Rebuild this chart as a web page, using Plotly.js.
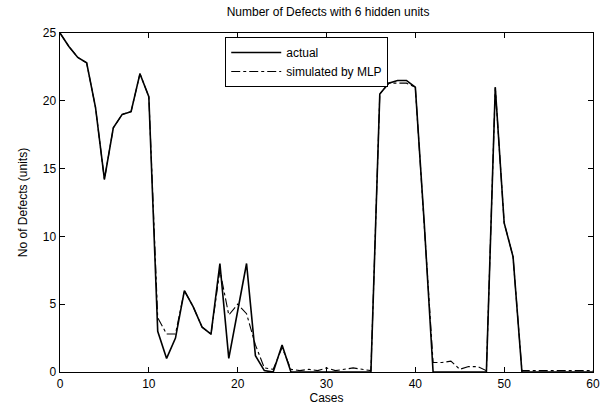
<!DOCTYPE html>
<html>
<head>
<meta charset="utf-8">
<script src="https://cdn.plot.ly/plotly-3.0.1.min.js"></script>
<style>html,body{margin:0;padding:0;background:#fff}#chart{width:602px;height:408px}</style>
</head>
<body>
<div id="chart"></div>
<script>
const cases = [];
for (let i = 0; i <= 60; i++) cases.push(i);

const actual = [
  25, 24, 23.2, 22.8, 19.5, 14.2, 18, 19, 19.2, 22,
  20.3, 3, 1, 2.5, 6, 4.8, 3.3, 2.8, 8, 1,
  4.5, 8, 1.2, 0.1, 0, 2, 0, 0, 0, 0,
  0, 0, 0, 0, 0, 0, 20.5, 21.3, 21.5, 21.5,
  21, 11, 0, 0, 0, 0, 0, 0, 0, 21,
  11, 8.5, 0, 0, 0, 0, 0, 0, 0, 0,
  0
];

const simulated = [
  25, 24, 23.2, 22.8, 19.5, 14.2, 18, 19, 19.2, 22,
  20.3, 4, 2.8, 2.8, 6, 4.8, 3.3, 2.8, 7.5, 4.2,
  5, 4.3, 2, 0.3, 0.2, 1.8, 0.2, 0.1, 0.2, 0.1,
  0.3, 0.1, 0.2, 0.3, 0.2, 0.1, 20.5, 21.3, 21.3, 21.3,
  21, 11, 0.7, 0.7, 0.8, 0.2, 0.4, 0.4, 0.1, 21,
  11, 8.5, 0.1, 0.1, 0.1, 0.1, 0.1, 0.1, 0.1, 0.1,
  0.1
];

const xTicks = [0, 10, 20, 30, 40, 50, 60];
const yTicks = [0, 5, 10, 15, 20, 25];

const font = {family: 'Liberation Sans, Arial, sans-serif', size: 12, color: '#000'};

const traces = [
  {x: cases, y: actual, name: 'actual', type: 'scatter', mode: 'lines',
   line: {color: '#000', width: 1.6, dash: 'solid'}},
  {x: cases, y: simulated, name: 'simulated by MLP', type: 'scatter', mode: 'lines',
   line: {color: '#000', width: 1.1, dash: 'dashdot'}}
];

const axisCommon = {
  showline: true, linecolor: '#000', linewidth: 1.4, mirror: 'ticks',
  ticks: 'inside', ticklen: 5, tickcolor: '#000', showgrid: false, zeroline: false,
  tickfont: font
};

const layout = {
  width: 602, height: 408,
  margin: {l: 60, r: 9, t: 33, b: 36},
  paper_bgcolor: '#fff', plot_bgcolor: '#fff',
  font: font,
  title: {text: 'Number of Defects with 6 hidden units', font: {family: font.family, size: 12, color: '#000'},
          x: 0.545, xanchor: 'center', y: 0.972, yanchor: 'middle'},
  xaxis: Object.assign({}, axisCommon, {range: [0, 60], tickvals: xTicks, ticktext: xTicks.map(String),
          title: {text: 'Cases', font: font, standoff: 3}}),
  yaxis: Object.assign({}, axisCommon, {range: [0, 25], tickvals: yTicks, ticktext: yTicks.map(String),
          title: {text: 'No of Defects (units)', font: font, standoff: 12}}),
  showlegend: true,
  legend: {x: 0.31, y: 0.988, xanchor: 'left', yanchor: 'top', bgcolor: '#fff',
           bordercolor: '#000', borderwidth: 1, font: {family: font.family, size: 12, color: '#000'},
           tracegroupgap: 0, itemwidth: 50}
};

Plotly.newPlot('chart', traces, layout, {staticPlot: true, displayModeBar: false});
</script>
</body>
</html>
